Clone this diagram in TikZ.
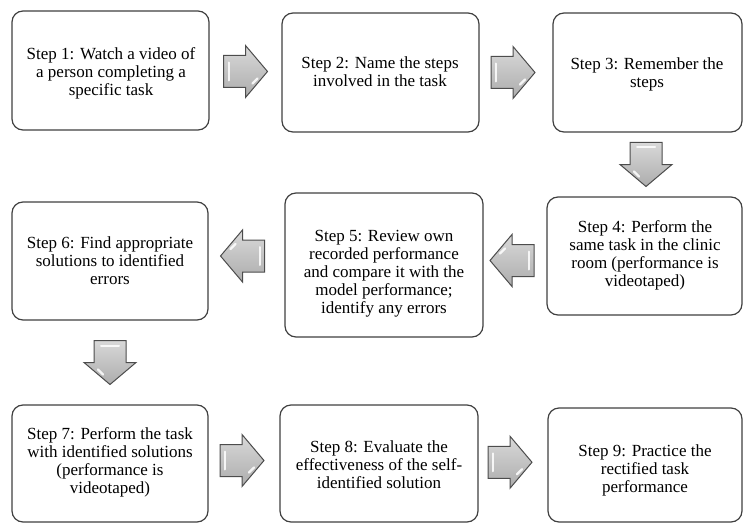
\documentclass[tikz,border=0pt]{standalone}
\usepackage{fontspec}
\setmainfont{Liberation Serif}
\usetikzlibrary{calc}
\tikzset{
  stepbox/.style={draw=black!75, line width=1.2pt, rounded corners=11pt, fill=white, inner sep=0pt},
  steptext/.style={align=center, font=\fontsize{17}{18}\selectfont, inner sep=0pt},
  blockarrow/.pic={
    \draw[top color=gray!30, bottom color=gray!65, draw=black!70, line width=1pt]
      (-22,-16) -- (0,-16) -- (0,-26) -- (22,0) -- (0,26) -- (0,16) -- (-22,16) -- cycle;
    \draw[white, line width=2pt, line cap=round, opacity=0.85] (-17,-9) -- (-17,9);
    \draw[white, line width=2.2pt, line cap=round, opacity=0.85] (7,12) -- (12,7);
  }
}
\begin{document}
\begin{tikzpicture}[x=1pt, y=-1pt]
\useasboundingbox (0,0) rectangle (744,524);
% boxes
\node[stepbox, minimum width=197, minimum height=119] (b1) at (110.5,70.5) {};
\node[stepbox, minimum width=197, minimum height=119] (b2) at (380.5,72.5) {};
\node[stepbox, minimum width=189, minimum height=119] (b3) at (647.5,72.5) {};
\node[stepbox, minimum width=195, minimum height=118] (b4) at (644.5,256) {};
\node[stepbox, minimum width=198, minimum height=144] (b5) at (384,265) {};
\node[stepbox, minimum width=196, minimum height=118] (b6) at (110,261) {};
\node[stepbox, minimum width=196, minimum height=117] (b7) at (110,463.5) {};
\node[stepbox, minimum width=198, minimum height=117] (b8) at (379,463.5) {};
\node[stepbox, minimum width=194, minimum height=114] (b9) at (645,465) {};
% texts
\node[steptext] (t1) at (111,73) {Step 1: Watch a video of\\a person completing a\\specific task};
\node[steptext] (t2) at (380,72) {Step 2: Name the steps\\involved in the task};
\node[steptext] (t3) at (647,74) {Step 3: Remember the\\steps};
\node[steptext] (t4) at (645,255) {Step 4: Perform the\\same task in the clinic\\room (performance is\\videotaped)};
\node[steptext] (t5) at (384,274) {Step 5: Review own\\recorded performance\\and compare it with the\\model performance;\\identify any errors};
\node[steptext] (t6) at (110,261) {Step 6: Find appropriate\\solutions to identified\\errors};
\node[steptext] (t7) at (110,462) {Step 7: Perform the task\\with identified solutions\\(performance is\\videotaped)};
\node[steptext] (t8) at (379,465) {Step 8: Evaluate the\\effectiveness of the self-\\identified solution};
\node[steptext] (t9) at (645,470) {Step 9: Practice the\\rectified task\\performance};
% block arrows
\pic at ($(b1.east)!0.5!(b2.west)$) {blockarrow};
\pic at ($(b2.east)!0.5!(b3.west)+(-3,0)$) {blockarrow};
\pic[rotate=-90] at ($(b3.south)!0.5!(b4.north)$) {blockarrow};
\pic[rotate=180] at ($(b4.west)!0.5!(b5.east)+(-3,0)$) {blockarrow};
\pic[rotate=180] at ($(b5.west)!0.5!(b6.east)+(-4,-7)$) {blockarrow};
\pic[rotate=-90] at ($(b6.south)!0.5!(b7.north)$) {blockarrow};
\pic at ($(b7.east)!0.5!(b8.west)+(-2,-3)$) {blockarrow};
\pic at ($(b8.east)!0.5!(b9.west)+(-3,-2)$) {blockarrow};
\end{tikzpicture}
\end{document}
